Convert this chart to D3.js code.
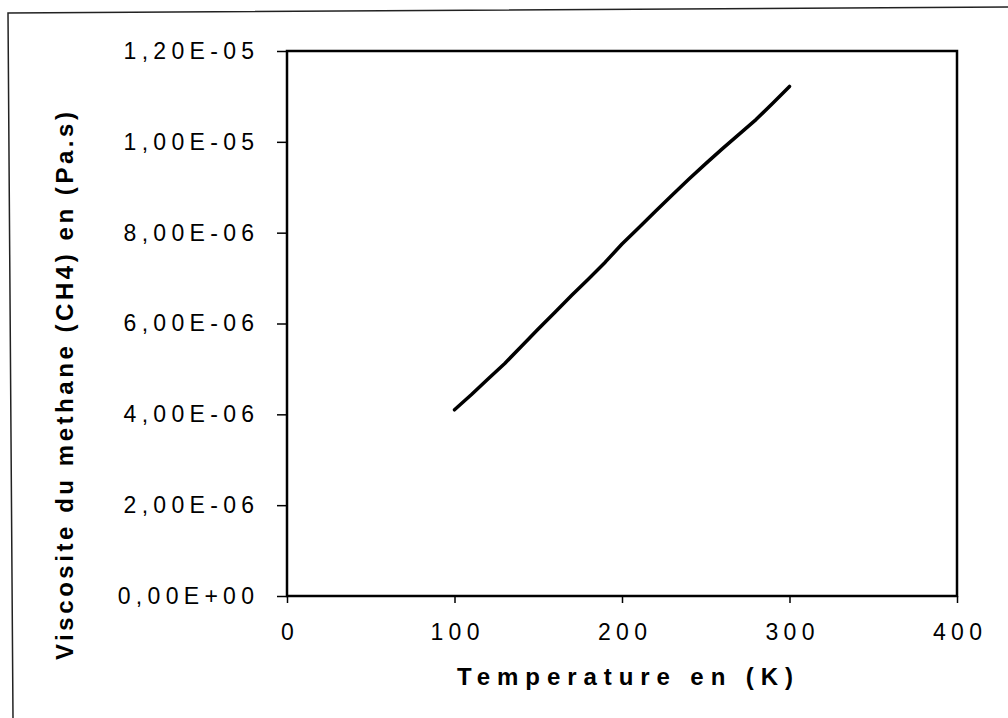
<!DOCTYPE html>
<html>
<head>
<meta charset="utf-8">
<script src="https://cdn.jsdelivr.net/npm/d3@7"></script>
<style>
  body { margin: 0; background: #fff; }
  text { font-family: Arial, "Liberation Sans", sans-serif; fill: #000; }
</style>
</head>
<body>
<script>
// data
var temperatures = [100, 110, 120, 130, 140, 150, 160, 170, 180, 190, 200,
                    210, 220, 230, 240, 250, 260, 270, 280, 290, 300];
var viscosity = [4.10e-6, 4.43e-6, 4.78e-6, 5.12e-6, 5.50e-6, 5.88e-6, 6.25e-6,
                 6.62e-6, 6.98e-6, 7.35e-6, 7.75e-6, 8.11e-6, 8.47e-6, 8.83e-6,
                 9.18e-6, 9.52e-6, 9.85e-6, 10.17e-6, 10.49e-6, 10.85e-6, 11.22e-6];

var xTicks = [0, 100, 200, 300, 400];
var xTickLabels = ["0", "100", "200", "300", "400"];
var yTicks = [0, 2e-6, 4e-6, 6e-6, 8e-6, 10e-6, 12e-6];
var yTickLabels = ["0,00E+00", "2,00E-06", "4,00E-06", "6,00E-06", "8,00E-06", "1,00E-05", "1,20E-05"];

var xTitle = "Temperature en (K)";
var yTitle = "Viscosite du methane (CH4) en (Pa.s)";

var W = 1008, H = 718;
var plot = {left: 287, right: 957, top: 51, bottom: 596};
var ls = 5.3; // letter spacing of tick labels

var svg = d3.select("body")
    .append("svg")
    .attr("width", W)
    .attr("height", H);

// scanned page frame (slightly skewed)
svg.append("path")
    .attr("d", "M1008,7 L8,13 L13,718")
    .attr("fill", "none")
    .attr("stroke", "#222")
    .attr("stroke-width", 1.5);

var x = d3.scaleLinear().domain([0, 400]).range([plot.left, plot.right]);
var y = d3.scaleLinear().domain([0, 1.2e-5]).range([plot.bottom, plot.top]);

//X axis
var gx = svg.append("g")
    .attr("transform", "translate(0," + plot.bottom + ")")
    .call(d3.axisBottom(x)
        .tickValues(xTicks)
        .tickFormat(function (d, i) { return xTickLabels[i]; })
        .tickSizeInner(7)
        .tickSizeOuter(0)
        .tickPadding(21));
gx.select(".domain").remove();
gx.selectAll("line").attr("stroke", "#000").attr("stroke-width", 1.5);
gx.selectAll("text")
    .style("font-size", "23px")
    .style("letter-spacing", ls + "px")
    .attr("dx", ls / 2);

//Y axis
var gy = svg.append("g")
    .attr("transform", "translate(" + plot.left + ",0)")
    .call(d3.axisLeft(y)
        .tickValues(yTicks)
        .tickFormat(function (d, i) { return yTickLabels[i]; })
        .tickSizeInner(10)
        .tickSizeOuter(0)
        .tickPadding(23 - ls));
gy.select(".domain").remove();
gy.selectAll("line").attr("stroke", "#000").attr("stroke-width", 1.5);
gy.selectAll("text")
    .style("font-size", "23px")
    .style("letter-spacing", ls + "px");

// plot frame
svg.append("rect")
    .attr("x", plot.left)
    .attr("y", plot.top)
    .attr("width", plot.right - plot.left)
    .attr("height", plot.bottom - plot.top)
    .attr("fill", "none")
    .attr("stroke", "#000")
    .attr("stroke-width", 2.5);

// data line
var line = d3.line()
    .x(function (d, i) { return x(temperatures[i]); })
    .y(function (d) { return y(d); });

svg.append("path")
    .datum(viscosity)
    .attr("d", line)
    .attr("fill", "none")
    .attr("stroke", "#000")
    .attr("stroke-width", 3.5)
    .attr("stroke-linejoin", "round")
    .attr("stroke-linecap", "round");

// axis titles
svg.append("text")
    .attr("x", 625)
    .attr("y", 685)
    .attr("text-anchor", "middle")
    .attr("textLength", 336)
    .attr("lengthAdjust", "spacing")
    .style("font-size", "24px")
    .style("font-weight", "bold")
    .text(xTitle);

svg.append("text")
    .attr("transform", "translate(73,386) rotate(-90)")
    .attr("text-anchor", "middle")
    .attr("textLength", 548)
    .attr("lengthAdjust", "spacing")
    .style("font-size", "24px")
    .style("font-weight", "bold")
    .text(yTitle);
</script>
</body>
</html>
